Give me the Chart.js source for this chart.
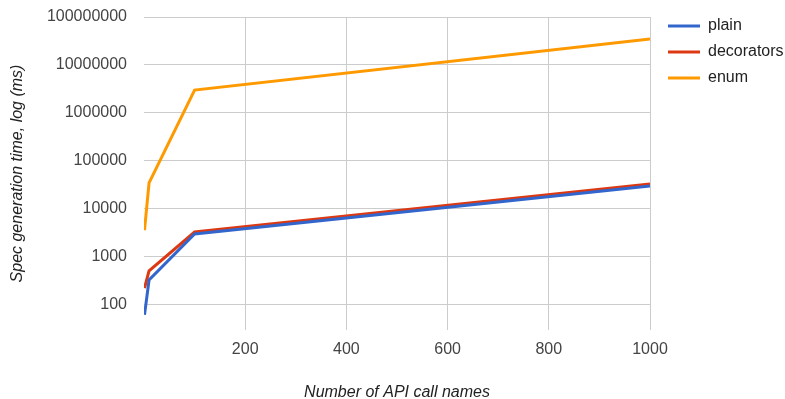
<!DOCTYPE html>
<html>
<head>
<meta charset="utf-8">
<script src="https://cdn.jsdelivr.net/npm/chart.js@4.4.0/dist/chart.umd.min.js"></script>
<style>
  html, body { margin: 0; padding: 0; background: #fff; }
  #wrap { width: 785px; height: 399px; position: relative; }
</style>
</head>
<body>
<div id="wrap"><canvas id="specChart"></canvas></div>
<script>
// API call name counts (x) and generation times in ms (y)
const callNames = [1, 10, 100, 1000];
const plainTimes = [62, 330, 3000, 30000];
const decoratorTimes = [225, 510, 3300, 33000];
const enumTimes = [3600, 35000, 3000000, 35000000];
const yTicks = [100, 1000, 10000, 100000, 1000000, 10000000, 100000000];

const font = '"Liberation Sans", Arial, sans-serif';

function toPoints(values) {
  return callNames.map((x, i) => ({ x: x, y: values[i] }));
}

// nudge the legend to the right of the plot, like the original
const legendShift = {
  id: 'legendShift',
  afterLayout(c) { if (c.legend) c.legend.left += 8; }
};

const ctx = document.getElementById('specChart').getContext('2d');
const chart = new Chart(ctx, {
  type: 'line',
  data: {
    datasets: [
      { label: 'plain', data: toPoints(plainTimes), borderColor: '#3366cc', backgroundColor: '#3366cc' },
      { label: 'decorators', data: toPoints(decoratorTimes), borderColor: '#dc3912', backgroundColor: '#dc3912' },
      { label: 'enum', data: toPoints(enumTimes), borderColor: '#ff9900', backgroundColor: '#ff9900' }
    ]
  },
  plugins: [legendShift],
  options: {
    responsive: true,
    maintainAspectRatio: false,
    animation: false,
    elements: {
      line: { borderWidth: 3, tension: 0 },
      point: { radius: 0 }
    },
    layout: { padding: { top: 8, left: 0, right: 0, bottom: 0 } },
    plugins: {
      legend: {
        position: 'right',
        align: 'start',
        maxWidth: 135,
        labels: {
          boxWidth: 32,
          boxHeight: 3,
          padding: 10,
          color: '#222',
          font: { family: font, size: 16 },
          generateLabels: c => Chart.defaults.plugins.legend.labels.generateLabels(c)
            .map(item => Object.assign(item, { lineWidth: 0 }))
        }
      },
      tooltip: { enabled: false }
    },
    scales: {
      x: {
        type: 'linear',
        min: 0,
        max: 1000,
        border: { display: false },
        afterFit: scale => { scale.height = 69; scale.paddingRight = 0; },
        grid: {
          color: c => c.tick.value === 0 ? 'rgba(0,0,0,0)' : '#cccccc',
          drawTicks: false
        },
        ticks: {
          stepSize: 200,
          padding: 10,
          color: '#444',
          font: { family: font, size: 16 },
          callback: v => v === 0 ? '' : v
        },
        title: {
          display: true,
          text: 'Number of API call names',
          color: '#222',
          font: { family: font, size: 16, style: 'italic', lineHeight: 1 },
          padding: { top: 0, bottom: -2 }
        }
      },
      y: {
        type: 'logarithmic',
        min: 30,
        max: 100000000,
        border: { display: false },
        afterBuildTicks: scale => { scale.ticks = yTicks.map(v => ({ value: v })); },
        afterFit: scale => { scale.width = 144; scale.paddingTop = 17; scale.paddingBottom = 0; },
        grid: { color: '#cccccc', drawTicks: false },
        ticks: {
          padding: 17,
          color: '#444',
          font: { family: font, size: 16 },
          callback: v => String(v)
        },
        title: {
          display: true,
          text: 'Spec generation time, log (ms)',
          color: '#222',
          font: { family: font, size: 16, style: 'italic', lineHeight: 1 },
          padding: { top: 10, bottom: 0 }
        }
      }
    }
  }
});
</script>
</body>
</html>
